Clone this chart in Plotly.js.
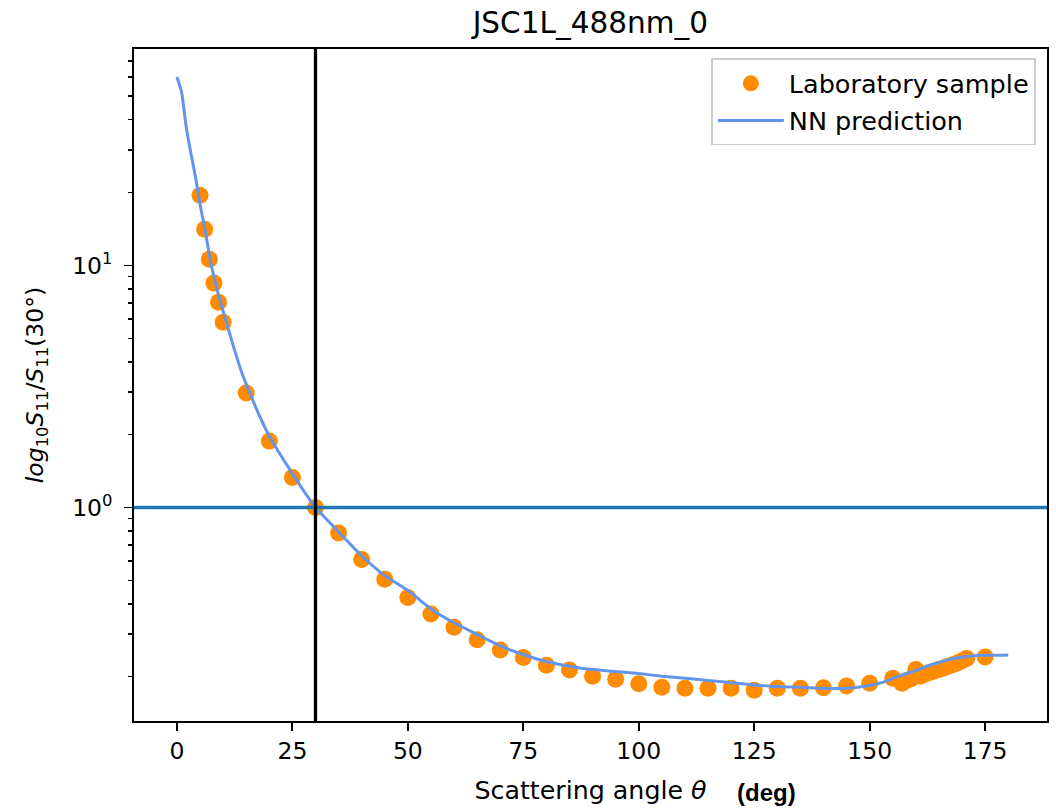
<!DOCTYPE html>
<html>
<head>
<meta charset="utf-8">
<script src="https://cdn.plot.ly/plotly-3.0.1.min.js"></script>
<style>html,body{margin:0;padding:0;background:#fff;}#chart{width:1056px;height:808px;}</style>
</head>
<body>
<div id="chart"></div>
<script>
// Laboratory sample (angle in deg, S11/S11(30°))
const labAngle = [5,6,7,8,9,10,15,20,25,30,35,40,45,50,55,60,65,70,75,80,85,90,95,100,105,110,115,120,125,130,135,140,145,150,155,157,158,159,160,161,162,163,164,165,166,167,168,169,170,171,175];
const labValue = [19.5,14.1,10.6,8.45,7.05,5.83,2.97,1.88,1.33,1.0,0.785,0.61,0.505,0.425,0.363,0.32,0.284,0.258,0.240,0.223,0.213,0.201,0.195,0.187,0.181,0.179,0.179,0.179,0.176,0.179,0.179,0.180,0.183,0.188,0.197,0.188,0.193,0.196,0.214,0.201,0.205,0.208,0.211,0.214,0.217,0.221,0.224,0.228,0.233,0.238,0.241];

// NN prediction
const nnAngle = [0,1,2,3,4,5,6,7,8,9,10,11,12,14,16,18,20,22,25,28,30,33,36,40,45,50,55,60,65,70,75,80,85,90,95,100,105,110,115,120,125,130,135,140,145,150,153,156,160,163,166,170,174,177,180];
const nnValue = [60,52,37.4,29.2,23.3,17.9,14.3,11.1,8.97,7.55,6.46,5.57,4.79,3.63,2.90,2.36,1.97,1.70,1.38,1.13,1.0,0.869,0.757,0.632,0.523,0.455,0.381,0.334,0.299,0.268,0.247,0.231,0.221,0.214,0.210,0.206,0.201,0.197,0.193,0.189,0.185,0.182,0.181,0.179,0.179,0.184,0.190,0.200,0.212,0.223,0.232,0.241,0.245,0.245,0.246];

const xTicks = [0,25,50,75,100,125,150,175];
const yTickVals = [1,10];
const yTickText = ['10<sup>0</sup>','10<sup>1</sup>'];
const yMinorVals = [0.2,0.3,0.4,0.5,0.6,0.7,0.8,0.9,2,3,4,5,6,7,8,9,20,30,40,50,60,70];

const refAngle = 30;
const refValue = 1;

const FONT = 'DejaVu Sans, sans-serif';

const traces = [
  {
    x: labAngle, y: labValue, type: 'scatter', mode: 'markers',
    name: 'Laboratory sample', legendgroup: 'a',
    marker: {color: '#ff8c00', size: 17}
  },
  {
    x: nnAngle, y: nnValue, type: 'scatter', mode: 'lines',
    name: 'NN prediction', legendgroup: 'b',
    line: {color: '#6495ed', width: 3, shape: 'spline', smoothing: 0.5}
  }
];

const layout = {
  width: 1056, height: 808,
  margin: {l: 134, r: 8.5, t: 49, b: 87},
  paper_bgcolor: '#fff', plot_bgcolor: '#fff',
  font: {family: FONT, size: 23, color: '#000'},
  showlegend: true,
  title: {text: 'JSC1L_488nm_0', font: {family: FONT, size: 29.5, color: '#000'},
          x: 0.559, xanchor: 'center', y: 0.972, yanchor: 'middle', yref: 'container'},
  xaxis: {
    range: [-9.3, 188.4],
    tickmode: 'array', tickvals: xTicks,
    ticks: 'outside', ticklen: 8, tickwidth: 1.8, tickcolor: '#000',
    showline: true, mirror: true, linecolor: '#000', linewidth: 1.8,
    showgrid: false, zeroline: false,
    tickfont: {family: FONT, size: 23.5, color: '#000'},
    title: {text: 'Scattering angle <i>θ</i>', font: {family: FONT, size: 25.3, color: '#000'}, standoff: 17}
  },
  yaxis: {
    type: 'log', range: [-0.882, 1.894],
    tickmode: 'array', tickvals: yTickVals, ticktext: yTickText,
    ticks: 'outside', ticklen: 8, tickwidth: 1.8, tickcolor: '#000',
    ticklabelstandoff: 7,
    minor: {tickmode: 'array', tickvals: yMinorVals, ticks: 'outside', ticklen: 4.6, tickwidth: 1.5, tickcolor: '#000', showgrid: false},
    showline: true, mirror: true, linecolor: '#000', linewidth: 1.8,
    showgrid: false, zeroline: false,
    tickfont: {family: FONT, size: 23.5, color: '#000'},
    title: {text: '<i>log</i><sub>10</sub><i>S</i><sub>11</sub>/<i>S</i><sub>11</sub>(30°)', font: {family: FONT, size: 23.5, color: '#000'}, standoff: 22}
  },
  legend: {
    x: 0.988, xanchor: 'right', y: 0.986, yanchor: 'top',
    bgcolor: 'rgba(255,255,255,0.8)', bordercolor: '#cccccc', borderwidth: 1.8,
    font: {family: FONT, size: 25.5, color: '#000'},
    traceorder: 'grouped', tracegroupgap: 1, itemwidth: 66
  },
  shapes: [
    {type: 'line', xref: 'paper', x0: 0, x1: 1, yref: 'y', y0: refValue, y1: refValue,
     line: {color: '#1f77b4', width: 3.5}, layer: 'above'},
    {type: 'line', xref: 'x', x0: refAngle, x1: refAngle, yref: 'paper', y0: 0, y1: 1,
     line: {color: '#000', width: 3.3}, layer: 'above'}
  ],
  annotations: [
    {text: '<b>(deg)</b>', xref: 'paper', yref: 'paper', x: 0.693, y: -0.107,
     xanchor: 'center', yanchor: 'middle', showarrow: false,
     font: {family: 'Liberation Sans, Arial, sans-serif', size: 24, color: '#000'}}
  ]
};

Plotly.newPlot('chart', traces, layout, {displayModeBar: false, staticPlot: true});
</script>
</body>
</html>
